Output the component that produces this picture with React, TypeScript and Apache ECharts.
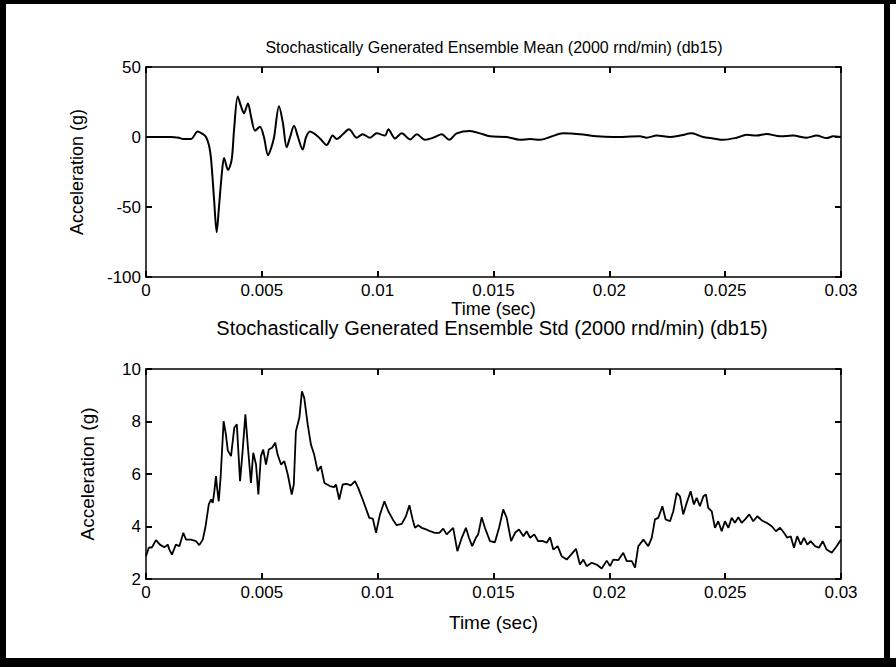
import React, { useEffect, useRef } from "react";
import * as echarts from "echarts";

// Ensemble mean (g) vs time (s)
const meanTime = [
  0, 0.00104, 0.00142, 0.0016, 0.00194, 0.00223, 0.00246, 0.00259, 0.00272, 0.00281,
  0.00294, 0.00305, 0.00315, 0.00328, 0.00337, 0.00354, 0.0037, 0.0038, 0.00396, 0.0041,
  0.00423, 0.0044, 0.00453, 0.00471, 0.00492, 0.00509, 0.00527, 0.0054, 0.00553, 0.00574,
  0.00591, 0.00607, 0.00622, 0.00639, 0.00656, 0.00676, 0.00691, 0.00708, 0.0073, 0.00751,
  0.0078, 0.00806, 0.00823, 0.0085, 0.00876, 0.0091, 0.00935, 0.00967, 0.00996, 0.01032,
  0.01046, 0.01075, 0.01104, 0.0114, 0.01169, 0.01204, 0.01248, 0.01276, 0.01309, 0.01341,
  0.01399, 0.01442, 0.01485, 0.01557, 0.01614, 0.01658, 0.01701, 0.01744, 0.01801, 0.01873,
  0.01946, 0.02016, 0.02132, 0.02161, 0.02205, 0.02262, 0.02305, 0.02356, 0.02404, 0.02448,
  0.02491, 0.0255, 0.02593, 0.02636, 0.02679, 0.02737, 0.02793, 0.02852, 0.02895, 0.02938,
  0.02966, 0.03,
];
const meanValue = [
  0, 0, -0.5, -1.5, -1.5, 4, 2, 0, -6, -16,
  -45, -68, -50, -25, -15, -23.6, -16, 5, 29, 22,
  17, 24, 15, 4.5, 7.4, 0, -13, -8, 0, 22,
  10, -7.4, 0, 8, 0, -9, 0, 4, 2, -1,
  -5.7, 1, -1.4, 2, 5.5, -0.5, 2, -0.5, 2.6, 1,
  5.5, -1, 2.6, -1.7, 2, -2, 0, 2, -2, 2.6,
  4.3, 2.6, 0.5, 0, -2, -1.5, -2, 0, 2.6, 2,
  0.5, 0, 0.5, -0.5, 1, 0, 1, 2.6, 0, -1,
  -2, -0.5, 1.6, 1, 2.2, 0.5, 1, -0.5, 1, -0.8,
  0.5, 0,
];

// Ensemble standard deviation (g) vs time (s)
const stdTime = [
  0, 0.00012, 0.00026, 0.00043, 0.0006, 0.00079, 0.00094, 0.00101, 0.00112, 0.00129,
  0.00144, 0.00161, 0.00173, 0.00194, 0.00216, 0.0023, 0.00245, 0.00256, 0.00271, 0.00281,
  0.00288, 0.00295, 0.00302, 0.00306, 0.00314, 0.00322, 0.00335, 0.00345, 0.00353, 0.00367,
  0.00381, 0.00392, 0.00406, 0.00417, 0.00429, 0.00439, 0.00453, 0.00463, 0.00475, 0.00485,
  0.00496, 0.00506, 0.00518, 0.0053, 0.00544, 0.00558, 0.00568, 0.00583, 0.00597, 0.00612,
  0.00629, 0.00638, 0.00647, 0.00662, 0.00673, 0.00683, 0.00698, 0.00712, 0.00726, 0.00741,
  0.00755, 0.0077, 0.00794, 0.00812, 0.0082, 0.00834, 0.00849, 0.00866, 0.00884, 0.00902,
  0.00916, 0.00938, 0.00964, 0.00979, 0.00993, 0.0101, 0.01029, 0.01046, 0.01065, 0.01082,
  0.01104, 0.01122, 0.01137, 0.01151, 0.01161, 0.01175, 0.0119, 0.01209, 0.01226, 0.01247,
  0.01266, 0.01283, 0.01298, 0.01312, 0.01326, 0.01344, 0.01363, 0.01381, 0.01394, 0.01408,
  0.01424, 0.01434, 0.01449, 0.01463, 0.01485, 0.01506, 0.01524, 0.01542, 0.01557, 0.01576,
  0.01593, 0.0161, 0.01629, 0.01643, 0.01658, 0.01676, 0.01693, 0.01711, 0.0173, 0.01744,
  0.01758, 0.01777, 0.01794, 0.01816, 0.01835, 0.01856, 0.01873, 0.01888, 0.01902, 0.01924,
  0.01945, 0.01967, 0.01989, 0.02003, 0.02017, 0.02039, 0.0206, 0.02075, 0.02097, 0.02111,
  0.02125, 0.02147, 0.02168, 0.02183, 0.02197, 0.02211, 0.02229, 0.02243, 0.02262, 0.02276,
  0.02291, 0.02305, 0.02319, 0.02334, 0.02351, 0.02365, 0.02377, 0.02391, 0.02406, 0.02417,
  0.02427, 0.02442, 0.02456, 0.0247, 0.02485, 0.02499, 0.02514, 0.02528, 0.02542, 0.02557,
  0.02571, 0.02586, 0.02604, 0.02621, 0.02639, 0.02658, 0.02679, 0.02701, 0.02719, 0.02737,
  0.02754, 0.02768, 0.02783, 0.02797, 0.02811, 0.02826, 0.0284, 0.02855, 0.02869, 0.02888,
  0.02905, 0.02921, 0.02938, 0.0296, 0.02981, 0.03,
];
const stdValue = [
  2.87, 3.19, 3.21, 3.48, 3.31, 3.21, 3.31, 3.12, 2.93, 3.31,
  3.25, 3.76, 3.5, 3.5, 3.44, 3.29, 3.5, 3.95, 4.84, 5.03,
  4.9, 5.34, 5.92, 5.54, 4.96, 5.86, 8.01, 7.5, 6.9, 6.68,
  7.76, 7.89, 5.73, 6.87, 8.27, 7.12, 5.66, 6.81, 6.36, 5.22,
  6.68, 6.93, 6.36, 6.93, 7.0, 7.19, 6.74, 6.36, 6.49, 5.98,
  5.22, 5.6, 7.63, 8.14, 9.15, 8.9, 7.89, 7.12, 6.74, 6.11,
  6.3, 5.66, 5.54, 5.5, 5.6, 5.03, 5.6, 5.62, 5.57, 5.73,
  5.47, 4.96, 4.33, 4.3, 3.76, 4.46, 4.96, 4.58, 4.27, 4.05,
  4.1, 4.39, 4.81, 4.27, 3.95, 4.05, 3.95, 3.89, 3.82, 3.76,
  3.76, 3.92, 3.7, 3.82, 3.95, 3.06, 3.57, 3.95, 3.57, 3.25,
  3.57, 3.7, 4.35, 3.95, 3.44, 3.4, 3.95, 4.65, 4.33, 3.44,
  3.76, 3.89, 3.63, 3.82, 3.57, 3.7, 3.44, 3.45, 3.38, 3.59,
  3.12, 3.25, 2.87, 2.74, 2.93, 3.15, 2.55, 2.74, 2.49, 2.62,
  2.55, 2.4, 2.7, 2.49, 2.74, 2.72, 3.0, 2.68, 2.68, 2.43,
  3.25, 3.5, 3.25, 3.57, 4.27, 4.33, 4.77, 4.27, 4.2, 4.58,
  5.28, 5.15, 4.46, 4.9, 5.34, 4.84, 5.09, 4.77, 5.15, 5.22,
  4.71, 4.58, 3.95, 4.2, 3.82, 4.2, 3.95, 4.33, 4.14, 4.35,
  4.14, 4.27, 4.46, 4.2, 4.39, 4.23, 4.14, 4.01, 3.82, 3.95,
  3.76, 3.57, 3.63, 3.19, 3.63, 3.31, 3.57, 3.31, 3.44, 3.25,
  3.19, 3.44, 3.12, 3.0, 3.25, 3.5,
];

const titles = [
  "Stochastically Generated Ensemble Mean (2000 rnd/min) (db15)",
  "Stochastically Generated Ensemble Std (2000 rnd/min) (db15)",
];
const xName = "Time (sec)";
const yName = "Acceleration (g)";

const FONT = "'Liberation Sans', Arial, Helvetica, sans-serif";
const INK = "#000";

const fmtX = (v: number) => String(+v.toFixed(3));

function makeX(gridIndex: number, bottom: boolean, fs: number, nfs: number, nameGap: number) {
  return {
    gridIndex,
    type: "value" as const,
    position: bottom ? "bottom" : "top",
    min: 0,
    max: 0.03,
    interval: 0.005,
    axisLine: { show: true, onZero: false, lineStyle: { color: INK, width: 1.5 } },
    axisTick: { show: true, inside: true, length: 6, lineStyle: { color: INK, width: 2 } },
    axisLabel: {
      show: bottom,
      fontSize: fs,
      color: INK,
      fontFamily: FONT,
      margin: 5,
      formatter: fmtX,
    },
    splitLine: { show: false },
    name: bottom ? xName : "",
    nameLocation: "middle" as const,
    nameGap,
    nameTextStyle: { fontSize: nfs, color: INK, fontFamily: FONT },
  };
}

function makeY(
  gridIndex: number,
  left: boolean,
  min: number,
  max: number,
  interval: number,
  fs: number,
  nfs: number,
  nameGap: number
) {
  return {
    gridIndex,
    type: "value" as const,
    position: left ? "left" : "right",
    min,
    max,
    interval,
    axisLine: { show: true, onZero: false, lineStyle: { color: INK, width: 1.5 } },
    axisTick: { show: true, inside: true, length: 6, lineStyle: { color: INK, width: 2 } },
    axisLabel: { show: left, fontSize: fs, color: INK, fontFamily: FONT, margin: 5 },
    splitLine: { show: false },
    name: left ? yName : "",
    nameLocation: "middle" as const,
    nameGap,
    nameRotate: 90,
    nameTextStyle: { fontSize: nfs, color: INK, fontFamily: FONT },
  };
}

export default function App() {
  const ref = useRef<HTMLDivElement>(null);
  useEffect(() => {
    if (!ref.current) return;
    const chart = echarts.init(ref.current, undefined, { renderer: "svg" });
    const meanData = meanTime.map((t, i) => [t, meanValue[i]]);
    const stdData = stdTime.map((t, i) => [t, stdValue[i]]);
    chart.setOption({
      animation: false,
      backgroundColor: "#fff",
      textStyle: { fontFamily: FONT },
      grid: [
        { left: 146, top: 67, width: 695, height: 210, containLabel: false },
        { left: 146, top: 369, width: 695, height: 210, containLabel: false },
      ],
      xAxis: [
        makeX(0, true, 17, 18, 8),
        makeX(0, false, 17, 18, 8),
        makeX(1, true, 17, 19, 34),
        makeX(1, false, 17, 19, 34),
      ],
      yAxis: [
        makeY(0, true, -100, 50, 50, 17, 18, 60),
        makeY(0, false, -100, 50, 50, 17, 18, 60),
        makeY(1, true, 2, 10, 2, 17, 19, 49),
        makeY(1, false, 2, 10, 2, 17, 19, 49),
      ],
      series: [
        {
          type: "line",
          xAxisIndex: 0,
          yAxisIndex: 0,
          data: meanData,
          showSymbol: false,
          smooth: 0.3,
          lineStyle: { color: INK, width: 2 },
        },
        {
          type: "line",
          xAxisIndex: 2,
          yAxisIndex: 2,
          data: stdData,
          showSymbol: false,
          lineStyle: { color: INK, width: 1.8 },
        },
      ],
      graphic: [
        {
          type: "text",
          x: 494,
          y: 47,
          style: {
            text: titles[0],
            fontSize: 16,
            fontFamily: FONT,
            fill: INK,
            textAlign: "center",
            textVerticalAlign: "middle",
          },
        },
        {
          type: "text",
          x: 492,
          y: 328,
          style: {
            text: titles[1],
            fontSize: 20,
            fontFamily: FONT,
            fill: INK,
            textAlign: "center",
            textVerticalAlign: "middle",
          },
        },
        { type: "rect", shape: { x: 0, y: 0, width: 896, height: 4 }, style: { fill: "#000" } },
        { type: "rect", shape: { x: 0, y: 0, width: 6, height: 667 }, style: { fill: "#000" } },
        { type: "rect", shape: { x: 884, y: 0, width: 6, height: 667 }, style: { fill: "#000" } },
        { type: "rect", shape: { x: 0, y: 658, width: 896, height: 9 }, style: { fill: "#000" } },
      ],
    });
    return () => chart.dispose();
  }, []);
  return (
    <div
      ref={ref}
      style={{ position: "fixed", left: 0, top: 0, width: 896, height: 667, background: "#fff" }}
    />
  );
}
